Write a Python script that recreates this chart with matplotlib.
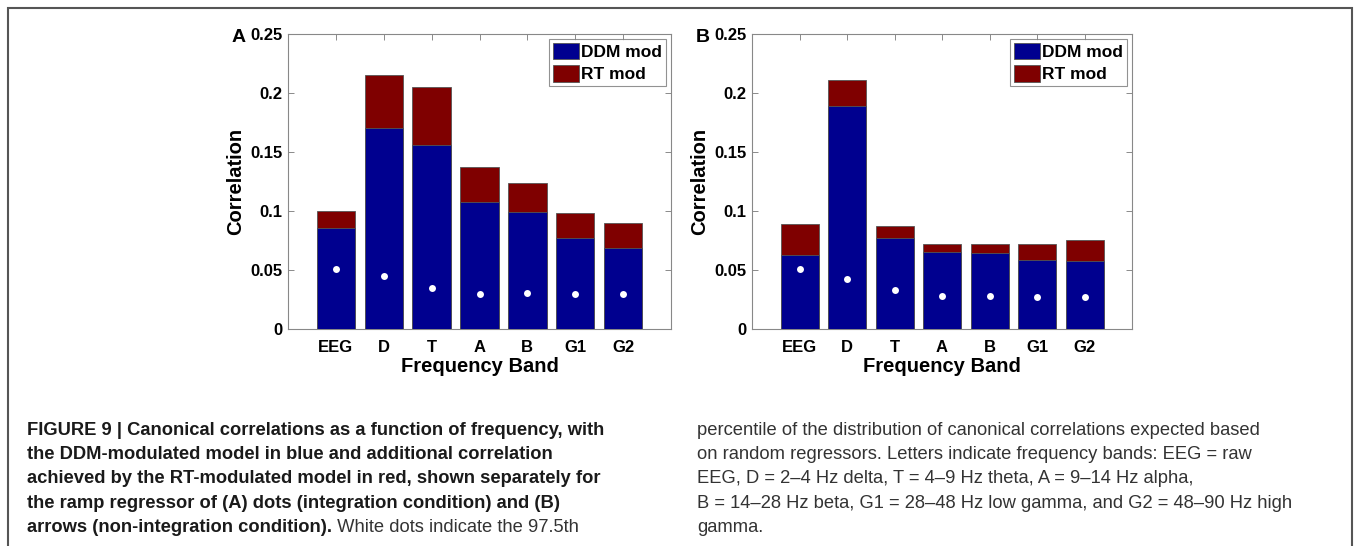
import matplotlib
matplotlib.use("Agg")
import matplotlib.pyplot as plt
from matplotlib.patches import Rectangle, Patch
import numpy as np

# ---------------- data ----------------
bands = ["EEG", "D", "T", "A", "B", "G1", "G2"]
ddm_A = [0.0858, 0.1704, 0.1558, 0.1075, 0.0990, 0.0773, 0.0683]
rt_A = [0.0996, 0.2150, 0.2048, 0.1374, 0.1239, 0.0985, 0.0897]
null_A = [0.0508, 0.0446, 0.0344, 0.0299, 0.0302, 0.0293, 0.0299]

ddm_B = [0.0629, 0.1893, 0.0773, 0.0655, 0.0646, 0.0581, 0.0573]
rt_B = [0.0889, 0.2113, 0.0869, 0.0717, 0.0720, 0.0720, 0.0753]
null_B = [0.0508, 0.0423, 0.0327, 0.0279, 0.0279, 0.0271, 0.0274]

yticks = [0, 0.05, 0.1, 0.15, 0.2, 0.25]
ytick_labels = ["0", "0.05", "0.1", "0.15", "0.2", "0.25"]

caption_left_bold = [
    "FIGURE 9 | Canonical correlations as a function of frequency, with",
    "the DDM-modulated model in blue and additional correlation",
    "achieved by the RT-modulated model in red, shown separately for",
    "the ramp regressor of (A) dots (integration condition) and (B)",
]
caption_left_last_bold = "arrows (non-integration condition)."
caption_left_last_reg = " White dots indicate the 97.5th"
caption_right = [
    "percentile of the distribution of canonical correlations expected based",
    "on random regressors. Letters indicate frequency bands: EEG = raw",
    "EEG, D = 2\u20134 Hz delta, T = 4\u20139 Hz theta, A = 9\u201314 Hz alpha,",
    "B = 14\u201328 Hz beta, G1 = 28\u201348 Hz low gamma, and G2 = 48\u201390 Hz high",
    "gamma.",
]

# ---------------- style ----------------
FONT = "Liberation Sans"
plt.rcParams["font.family"] = [FONT, "DejaVu Sans"]
BLUE = "#00008F"
RED = "#7F0000"
EDGE = "#555555"

W, H = 1356, 546
fig = plt.figure(figsize=(W / 100, H / 100), dpi=100)


def fx(px):
    return px / W


def fy(py):
    return 1 - py / H


def panel(left, right, letter, ddm, rt, null):
    ax = fig.add_axes([fx(left), fy(329), fx(right - left), (329 - 34) / H])
    x = np.arange(1, len(bands) + 1)
    ax.bar(x, rt, width=0.8, color=RED, edgecolor=EDGE, linewidth=0.6, label="RT mod", zorder=2)
    ax.bar(x, ddm, width=0.8, color=BLUE, edgecolor=EDGE, linewidth=0.6, label="DDM mod", zorder=3)
    ax.plot(x, null, "o", color="white", markersize=5, markeredgewidth=0, zorder=4)
    ax.set_xlim(0, 8)
    ax.set_ylim(0, 0.25)
    ax.set_xticks(x)
    ax.set_xticklabels(bands, fontsize=12, fontweight="bold")
    ax.set_yticks(yticks)
    ax.set_yticklabels(ytick_labels, fontsize=12, fontweight="bold")
    ax.tick_params(direction="in", length=4, width=0.6, color="#777777",
                   top=True, right=True)
    ax.tick_params(axis="x", pad=8)
    ax.tick_params(axis="y", pad=4)
    for s in ax.spines.values():
        s.set_color("#888888")
        s.set_linewidth(0.8)
    ax.set_xlabel("Frequency Band", fontsize=14.5, fontweight="bold", labelpad=1)
    ax.set_ylabel("Correlation", fontsize=14.5, fontweight="bold", labelpad=4)
    handles = [Patch(facecolor=BLUE, edgecolor=EDGE, linewidth=0.6),
               Patch(facecolor=RED, edgecolor=EDGE, linewidth=0.6)]
    leg = ax.legend(handles, ["DDM mod", "RT mod"], loc="upper right",
                    prop={"weight": "bold", "size": 12.5}, frameon=True,
                    fancybox=False, edgecolor="#777777", borderpad=0.2,
                    handlelength=1.5, handleheight=1.1, handletextpad=0.15,
                    labelspacing=0.3, borderaxespad=0.3)
    leg.get_frame().set_linewidth(0.8)
    fig.text(fx(left - 56), fy(38), letter, fontsize=14, fontweight="bold",
             ha="left", va="center")
    return ax


panel(288, 671, "A", ddm_A, rt_A, null_A)
panel(752, 1132, "B", ddm_B, rt_B, null_B)

# outer frame
fig.patches.append(Rectangle((fx(8), fy(560)), fx(1352 - 8), (560 - 7.5) / H,
                             transform=fig.transFigure, fill=False,
                             edgecolor="#555555", linewidth=1.5))

# caption
CAP_SIZE = 13.2
base0 = 435
step = 24.2
for i, line in enumerate(caption_left_bold):
    fig.text(fx(27), fy(base0 + i * step), line, fontsize=CAP_SIZE,
             fontweight="bold", ha="left", va="baseline", color="#1a1a1a")
t = fig.text(fx(27), fy(base0 + 4 * step), caption_left_last_bold, fontsize=CAP_SIZE,
             fontweight="bold", ha="left", va="baseline", color="#1a1a1a")
fig.canvas.draw()
bb = t.get_window_extent(renderer=fig.canvas.get_renderer())
fig.text(bb.x1 / W, fy(base0 + 4 * step), caption_left_last_reg, fontsize=CAP_SIZE,
         ha="left", va="baseline", color="#333333")
for i, line in enumerate(caption_right):
    fig.text(fx(697), fy(base0 + i * step), line, fontsize=CAP_SIZE,
             ha="left", va="baseline", color="#333333")

fig.savefig("out.png", dpi=100)
